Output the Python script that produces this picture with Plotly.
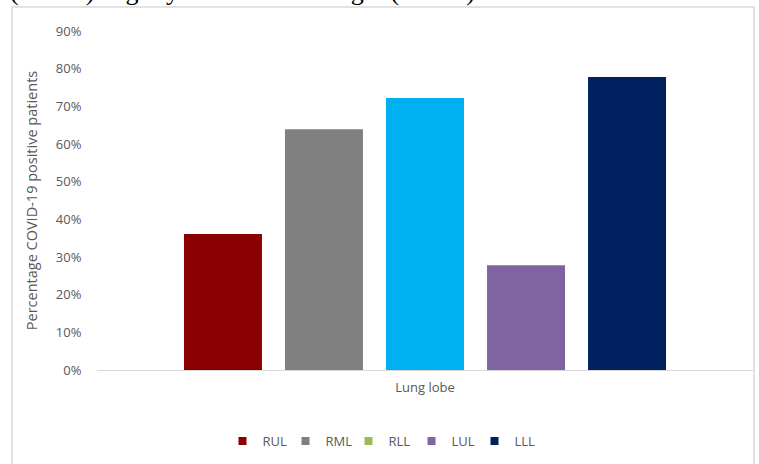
import plotly.graph_objects as go

lobes = ["RUL", "RML", "RLL", "LUL", "LLL"]
values = [0.361, 0.639, 0.722, 0.278, 0.778]
bar_colors = ["#8B0000", "#808080", "#00B0F0", "#8064A2", "#002060"]
legend_colors = ["#8B0000", "#808080", "#9BBB59", "#8064A2", "#002060"]
category = ["Lung lobe"]
y_ticks = [0, 0.1, 0.2, 0.3, 0.4, 0.5, 0.6, 0.7, 0.8, 0.9]

W, H = 759, 464
L, R, T, B = 97, 6, 31, 94
pw, ph = W - L - R, H - T - B

def px_x(p):
    return (p - L) / pw

def px_y(p):
    return (H - B - p) / ph

fig = go.Figure()
for name, v, c in zip(lobes, values, bar_colors):
    fig.add_trace(go.Bar(x=category, y=[v], name=name, marker=dict(color=c, line=dict(width=0)),
                         showlegend=False))
for name, c in zip(lobes, legend_colors):
    fig.add_trace(go.Scatter(x=[None], y=[None], mode="markers", name=name,
                             marker=dict(symbol="square", size=8, color=c)))

fig.update_layout(
    width=W, height=H,
    margin=dict(l=L, r=R, t=T, b=B),
    paper_bgcolor="white", plot_bgcolor="white",
    barmode="group", bargap=0.23, bargroupgap=0.228,
    font=dict(family="Open Sans, Liberation Sans, sans-serif", color="#595959", size=12),
    showlegend=True,
    legend=dict(orientation="h", x=px_x(380), xanchor="center", y=px_y(441), yanchor="middle",
                font=dict(size=13, color="#595959"), itemwidth=30, tracegroupgap=0,
                entrywidth=18, entrywidthmode="pixels",
                bgcolor="rgba(0,0,0,0)"),
    xaxis=dict(showticklabels=False, showline=True, linecolor="#d9d9d9", linewidth=1,
               ticks="", showgrid=False, zeroline=False,
               title=dict(text="Lung lobe", font=dict(size=13, color="#595959"), standoff=12)),
    yaxis=dict(range=[0, 0.9], tickvals=y_ticks, tickformat=".0%", showgrid=False,
               zeroline=False, showline=False, ticks="outside", ticklen=12, tickcolor="white",
               tickfont=dict(size=13, color="#595959"),
               title=dict(text="Percentage COVID-19 positive patients",
                          font=dict(size=14.5, color="#595959"), standoff=14)),
    shapes=[dict(type="rect", xref="paper", yref="paper",
                 x0=px_x(12), x1=px_x(754), y0=px_y(475), y1=px_y(7),
                 line=dict(color="#d9d9d9", width=1.5), fillcolor="rgba(0,0,0,0)", layer="below")],
    annotations=[dict(text="(77.8%) slightly more than the right (72.2%).", xref="paper", yref="paper",
                      x=px_x(8), xanchor="left", y=px_y(8), yanchor="bottom", showarrow=False,
                      font=dict(family="Liberation Serif, Times New Roman, serif", size=26, color="black"))],
)

fig.write_html("out.html")
